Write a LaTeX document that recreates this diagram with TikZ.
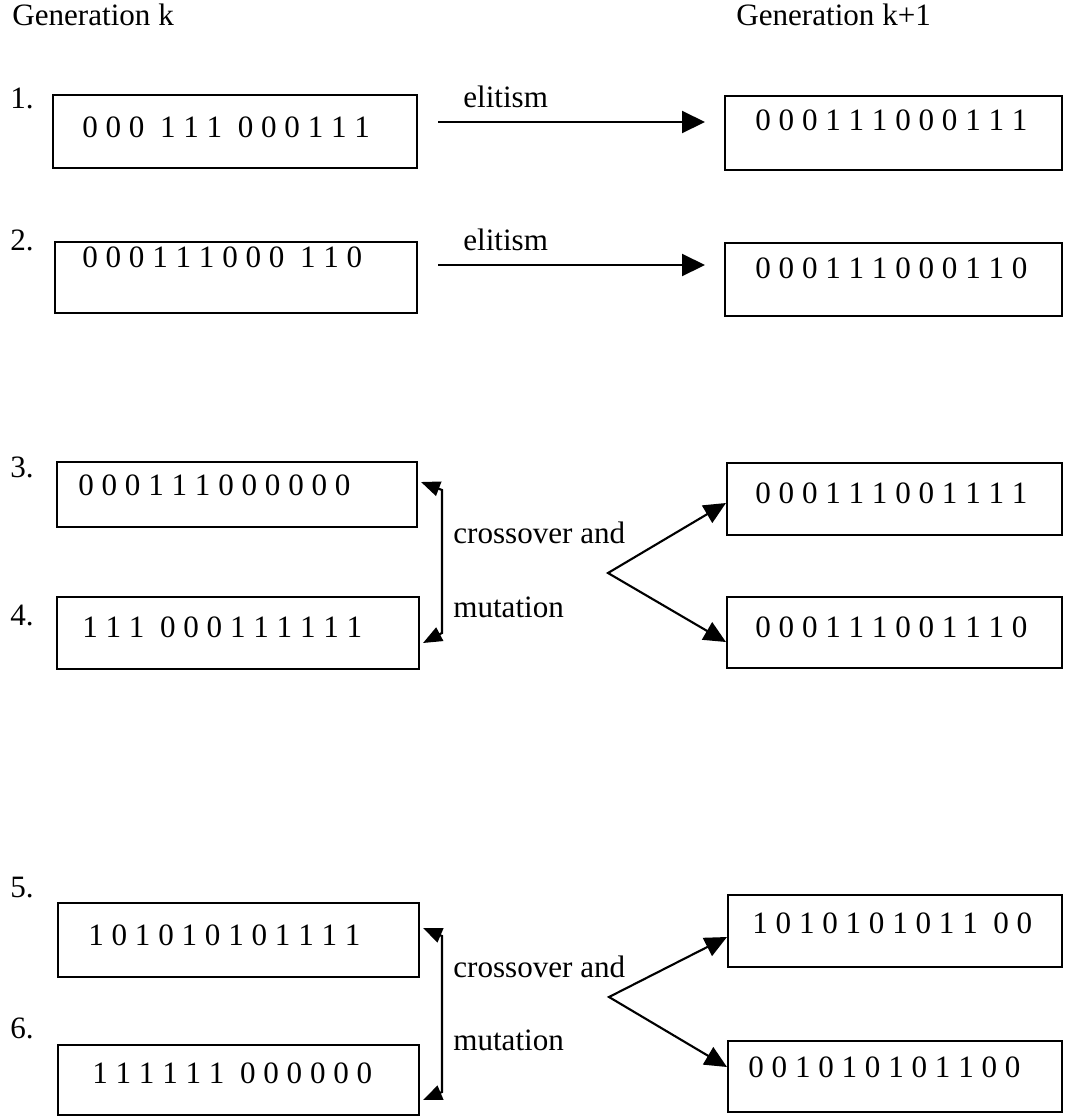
\documentclass[tikz,border=0pt]{standalone}
\usepackage{fontspec}
\setmainfont{Liberation Serif}
\usetikzlibrary{arrows.meta}

\tikzset{
    chrom/.style={draw, line width=1.2pt, inner sep=0pt},
    bits/.style={anchor=west, inner sep=0pt},
    lab/.style={anchor=base west, inner sep=0pt},
    elitarrow/.style={line width=1.2pt, -{Triangle[length=0.46cm,width=0.44cm]}},
    splitarrow/.style={line width=1.2pt, {Triangle[length=0.44cm,width=0.40cm]}-{Triangle[length=0.44cm,width=0.40cm]}},
    brackarrow/.style={line width=1.2pt, {Triangle[length=0.38cm,width=0.30cm]}-{Triangle[length=0.38cm,width=0.30cm]}},
}

\begin{document}
\begin{tikzpicture}[x=0.02cm, y=-0.02cm, font=\fontsize{17.7pt}{20pt}\selectfont]
        \useasboundingbox (0,0) rectangle (1065,1117);

        % headings
        \node[lab] (genk) at (12,25) {Generation k};
        \node[lab] (genk1) at (736,25) {Generation k+1};

        % generation k
        \node[chrom, minimum width=7.28cm, minimum height=1.46cm] (l1) at (235,131.5) {};
        \node[chrom, minimum width=7.24cm, minimum height=1.42cm] (l2) at (236,277.5) {};
        \node[chrom, minimum width=7.20cm, minimum height=1.30cm] (l3) at (237,494.5) {};
        \node[chrom, minimum width=7.24cm, minimum height=1.44cm] (l4) at (238,633) {};
        \node[chrom, minimum width=7.22cm, minimum height=1.48cm] (l5) at (238.5,940) {};
        \node[chrom, minimum width=7.22cm, minimum height=1.40cm] (l6) at (238.5,1080) {};

        \node[bits] (n1) at (10,98) {1.};
        \node[bits] (n2) at (10,240) {2.};
        \node[bits] (n3) at (10,467) {3.};
        \node[bits] (n4) at (10,615) {4.};
        \node[bits] (n5) at (10,888) {5.};
        \node[bits] (n6) at (10,1028) {6.};

        \node[bits] (tl1) at (82,127) {0 0 0\ \ 1 1 1\ \ 0 0 0 1 1 1};
        \node[bits] (tl2) at (82,257) {0 0 0 1 1 1 0 0 0\ \ 1 1 0};
        \node[bits] (tl3) at (78,485) {0 0 0 1 1 1 0 0 0 0 0 0};
        \node[bits] (tl4) at (82,627) {1 1 1\ \ 0 0 0 1 1 1 1 1 1};
        \node[bits] (tl5) at (88,935) {1 0 1 0 1 0 1 0 1 1 1 1};
        \node[bits] (tl6) at (92,1073) {1 1 1 1 1 1\ \ 0 0 0 0 0 0};

        % generation k+1
        \node[chrom, minimum width=6.74cm, minimum height=1.48cm] (r1) at (893.5,133) {};
        \node[chrom, minimum width=6.74cm, minimum height=1.46cm] (r2) at (893.5,279.5) {};
        \node[chrom, minimum width=6.70cm, minimum height=1.44cm] (r3) at (894.5,499) {};
        \node[chrom, minimum width=6.70cm, minimum height=1.42cm] (r4) at (894.5,632.5) {};
        \node[chrom, minimum width=6.68cm, minimum height=1.44cm] (r5) at (895,931) {};
        \node[chrom, minimum width=6.68cm, minimum height=1.42cm] (r6) at (895,1076.5) {};

        \node[bits] (tr1) at (755,120) {0 0 0 1 1 1 0 0 0 1 1 1};
        \node[bits] (tr2) at (755,268) {0 0 0 1 1 1 0 0 0 1 1 0};
        \node[bits] (tr3) at (755,493) {0 0 0 1 1 1 0 0 1 1 1 1};
        \node[bits] (tr4) at (755,627) {0 0 0 1 1 1 0 0 1 1 1 0};
        \node[bits] (tr5) at (752,923) {1 0 1 0 1 0 1 0 1 1\ \ 0 0};
        \node[bits] (tr6) at (748,1067) {0 0 1 0 1 0 1 0 1 1 0 0};

        % elitism
        \coordinate (e1s) at (438,122);
        \coordinate (e1t) at (705,122);
        \coordinate (e2s) at (438,265);
        \coordinate (e2t) at (705,265);
        \draw[elitarrow] (e1s) -- (e1t);
        \draw[elitarrow] (e2s) -- (e2t);
        \node[lab] (el1) at (463,107) {elitism};
        \node[lab] (el2) at (463,250) {elitism};

        % crossover and mutation
        \coordinate (j1) at (442,490);
        \coordinate (j2) at (442,633);
        \coordinate (j3) at (442,936);
        \coordinate (j4) at (442,1092);
        \draw[brackarrow] ([xshift=0.06cm,yshift=0.25cm]l3.east) -- (j1) -- (j2) -- ([xshift=0.06cm,yshift=-0.2cm]l4.east);
        \draw[brackarrow] ([xshift=0.06cm,yshift=0.24cm]l5.east) -- (j3) -- (j4) -- ([xshift=0.06cm,yshift=-0.4cm]l6.east);

        \node[lab] (co1) at (453,543) {crossover and};
        \node[lab] (mu1) at (453,617) {mutation};
        \node[lab] (co2) at (453,977) {crossover and};
        \node[lab] (mu2) at (453,1050) {mutation};

        \coordinate (v1) at (608,573);
        \coordinate (v2) at (609,997);
        \draw[splitarrow] ([yshift=-0.08cm]r3.west) -- (v1) -- ([yshift=-0.19cm]r4.west);
        \draw[splitarrow] ([yshift=-0.12cm]r5.west) -- (v2) -- ([yshift=0.19cm]r6.west);
    \end{tikzpicture}
\end{document}
